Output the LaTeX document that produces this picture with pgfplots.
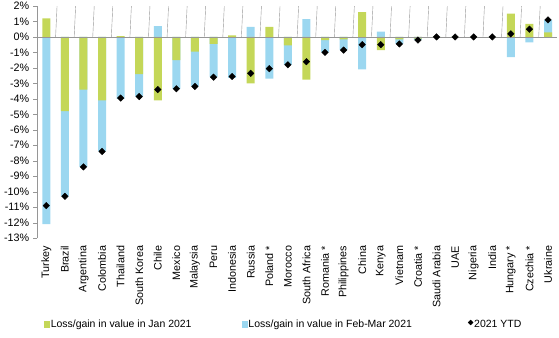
\documentclass[border=0pt]{standalone}
\usepackage{fontspec}
\setmainfont{Liberation Sans}
\usepackage{pgfplots}
\usepackage{pgfplotstable}
\pgfplotsset{compat=1.18}
\definecolor{jan}{RGB}{196,215,88}
\definecolor{feb}{RGB}{155,215,240}
\definecolor{axgray}{RGB}{150,150,150}
\pgfplotstableread{
x g b ytd
0 1.2 -12.1 -10.9
1 -4.8 -5.5 -10.3
2 -3.4 -5.0 -8.4
3 -4.1 -3.3 -7.4
4 0.05 -4.0 -3.95
5 -2.4 -1.45 -3.85
6 -4.1 0.7 -3.4
7 -1.5 -1.85 -3.35
8 -0.95 -2.25 -3.2
9 -0.45 -2.15 -2.6
10 0.1 -2.65 -2.55
11 -3.0 0.65 -2.35
12 0.65 -2.7 -2.05
13 -0.55 -1.25 -1.8
14 -2.75 1.15 -1.6
15 -0.2 -0.8 -1.0
16 -0.15 -0.7 -0.85
17 1.6 -2.1 -0.5
18 -0.85 0.35 -0.5
19 -0.15 -0.3 -0.45
20 -0.1 -0.1 -0.2
21 0 0 0
22 0 0 0
23 0 0 0
24 0 0 0
25 1.5 -1.3 0.2
26 0.85 -0.35 0.5
27 0.3 0.8 1.1
}\data
\begin{document}
\fontsize{10.8}{13}\selectfont
\begin{tikzpicture}
\begin{axis}[
  name=ax,
  scale only axis,
  width=520bp, height=232bp,
  xmin=-0.5, xmax=27.5,
  ymin=-13, ymax=2,
  ytick={-13,-12,...,2},
  yticklabel={\pgfmathprintnumber{\tick}\%},
  /pgf/number format/assume math mode=true,
  axis y line*=left,
  axis x line*=bottom,
  y axis line style={-, draw=axgray},
  x axis line style={draw=none},
  ytick style={draw=axgray},
  tick align=outside,
  major tick length=4bp,
  xtick=data,
  xtick style={draw=none},
  xticklabels={Turkey, Brazil, Argentina, Colombia, Thailand, South Korea, Chile, Mexico, Malaysia, Peru, Indonesia, Russia, Poland *, Morocco, South Africa, Romania *, Philippines, China, Kenya, Vietnam, Croatia *, Saudi Arabia, UAE, Nigeria, India, Hungary *, Czechia *, Ukraine},
  xticklabel style={rotate=90, anchor=east, font=\fontsize{10.8}{13}\selectfont},
  yticklabel style={font=\fontsize{10.8}{13}\selectfont},
  legend columns=3,
  legend style={at={(0.007,-0.371)}, anchor=west, draw=none, fill=none,
    font=\fontsize{10.5}{13}\selectfont,
    /tikz/every even column/.append style={column sep=49bp},
    nodes={inner sep=1bp}},
  legend cell align=left,
]
\addlegendimage{legend image code/.code={\fill[jan] (0bp,-2.8bp) rectangle (5.5bp,2.8bp);}}
\addlegendentry{Loss/gain in value in Jan 2021}
\addlegendimage{legend image code/.code={\fill[feb] (0bp,-2.8bp) rectangle (5.5bp,2.8bp);}}
\addlegendentry{Loss/gain in value in Feb-Mar 2021\hspace*{6bp}}
\addlegendimage{legend image code/.code={\fill[black,rotate=45] (2.5bp,0bp) ++(-1.7bp,-1.7bp) rectangle ++(3.4bp,3.4bp);}}
\addlegendentry{2021 YTD}

\addplot[ybar, bar width=8bp, bar shift=0pt, draw=none, fill=feb, forget plot]
  table[x=x, y expr={(\thisrow{g}*\thisrow{b}>0) ? (\thisrow{g}+\thisrow{b}) : \thisrow{b}}] {\data};
\addplot[ybar, bar width=8bp, bar shift=0pt, draw=none, fill=jan, forget plot]
  table[x=x, y=g] {\data};
\draw[axgray] (axis cs:-0.5,0) -- (axis cs:27.5,0);
\pgfplotsinvokeforeach{0,...,26}{\draw[axgray] (axis cs:#1.5,0) -- ++(0,-3bp);}
\addplot[only marks, mark=square*, mark size=2.3bp, mark options={rotate=45, fill=black, draw=black}, forget plot]
  table[x=x, y=ytd] {\data};
\end{axis}
\pgfresetboundingbox
\path (ax.south west) ++(-37bp,-99bp) coordinate (bl);
\path (ax.north east) ++(1.7bp,6bp) coordinate (tr);
\useasboundingbox (bl) rectangle (tr);
\end{tikzpicture}
\end{document}
